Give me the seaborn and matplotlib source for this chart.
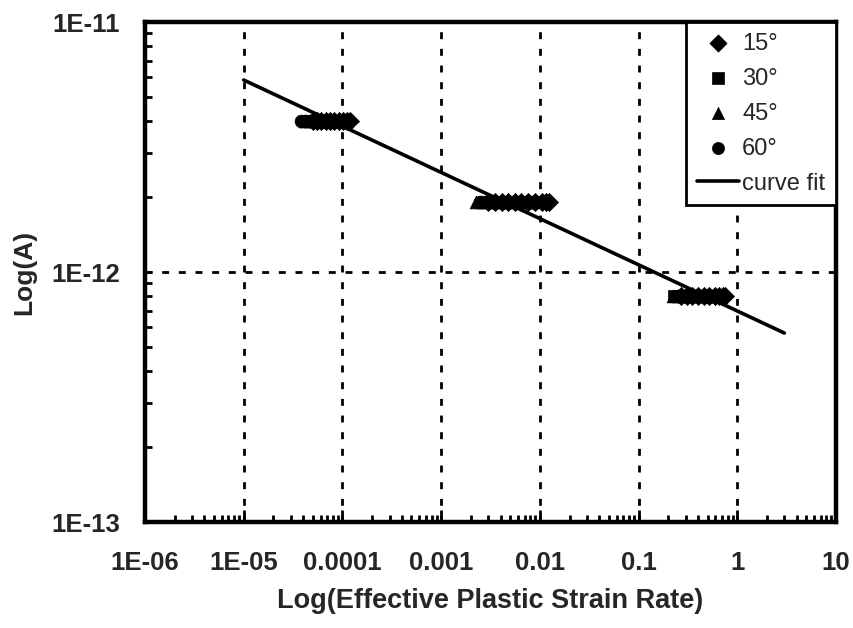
import matplotlib
matplotlib.use("Agg")
import matplotlib.pyplot as plt
import matplotlib.ticker as mticker
import seaborn as sns
import pandas as pd
import numpy as np

# ---- data ----
angles = ["15°", "30°", "45°", "60°"]
markers = {"15°": "D", "30°": "s", "45°": "^", "60°": "o"}
cluster_A = [4.0e-12, 1.9e-12, 8.0e-13]

x15 = [[5.0e-5, 5.5e-5, 6.1e-5, 6.8e-5, 7.5e-5, 8.3e-5, 9.2e-5, 1.02e-4, 1.12e-4, 1.2e-4],
       [3.0e-3, 3.5e-3, 4.1e-3, 4.8e-3, 5.6e-3, 6.5e-3, 7.6e-3, 8.9e-3, 1.04e-2, 1.15e-2, 1.24e-2],
       [0.27, 0.31, 0.35, 0.4, 0.46, 0.52, 0.59, 0.66, 0.71, 0.75]]
x30 = [[4.6e-5, 5.1e-5, 5.7e-5, 6.3e-5, 7.0e-5, 7.8e-5, 8.7e-5, 9.7e-5, 1.1e-4],
       [2.7e-3, 3.1e-3, 3.6e-3, 4.2e-3, 4.9e-3, 5.7e-3, 6.6e-3, 7.7e-3, 9.5e-3],
       [0.23, 0.26, 0.3, 0.34, 0.39, 0.45, 0.52, 0.58, 0.65]]
x45 = [[4.2e-5, 4.7e-5, 5.2e-5, 5.8e-5, 6.5e-5, 7.3e-5, 8.2e-5, 9.1e-5, 1.0e-4],
       [2.26e-3, 2.6e-3, 3.0e-3, 3.5e-3, 4.1e-3, 4.8e-3, 5.6e-3, 6.6e-3, 7.6e-3, 8.5e-3],
       [0.224, 0.25, 0.29, 0.33, 0.38, 0.44, 0.5, 0.55, 0.6]]
x60 = [[3.8e-5, 4.2e-5, 4.7e-5, 5.2e-5, 5.8e-5, 6.5e-5, 7.3e-5, 8.2e-5, 9.5e-5],
       [2.5e-3, 2.9e-3, 3.4e-3, 4.0e-3, 4.7e-3, 5.5e-3, 6.4e-3, 7.2e-3, 8.0e-3],
       [0.25, 0.28, 0.32, 0.37, 0.42, 0.48, 0.54, 0.6]]
series_x = {"15°": x15, "30°": x30, "45°": x45, "60°": x60}

fit_x = [1.0e-5, 3.0]
fit_A = [5.86e-12, 5.7e-13]

xtick_vals = [1e-6, 1e-5, 1e-4, 1e-3, 1e-2, 1e-1, 1, 10]
xtick_labels = ["1E-06", "1E-05", "0.0001", "0.001", "0.01", "0.1", "1", "10"]
ytick_vals = [1e-13, 1e-12, 1e-11]
ytick_labels = ["1E-13", "1E-12", "1E-11"]

# ---- build table ----
rows = []
for ang in angles:
    for ci, xs in enumerate(series_x[ang]):
        for xv in xs:
            rows.append({"angle": ang, "rate": xv, "A": cluster_A[ci]})
df = pd.DataFrame(rows)
fit_df = pd.DataFrame({"rate": fit_x, "A": fit_A})

sns.set_theme(style="white")
plt.rcParams["font.family"] = ["Liberation Sans", "DejaVu Sans"]

fig = plt.figure(figsize=(8.54, 6.28), dpi=100)
ax = fig.add_axes([145 / 854, 1 - 522 / 628, (836 - 145) / 854, (522 - 22) / 628])
ax.set_xscale("log")
ax.set_yscale("log")

# draw in reverse so 15° diamonds end on top
for ang in angles[::-1]:
    sns.scatterplot(data=df[df["angle"] == ang], x="rate", y="A", marker=markers[ang],
                    color="black", edgecolor="black", s=85, linewidth=0.5,
                    ax=ax, label=ang, legend=False, zorder=3)
sns.lineplot(data=fit_df, x="rate", y="A", color="black", linewidth=2.6, ax=ax,
             label="curve fit", legend=False, zorder=4)

ax.set_xlim(1e-6, 10)
ax.set_ylim(1e-13, 1e-11)

ax.xaxis.set_major_locator(mticker.FixedLocator(xtick_vals))
ax.xaxis.set_major_formatter(mticker.FixedFormatter(xtick_labels))
ax.yaxis.set_major_locator(mticker.FixedLocator(ytick_vals))
ax.yaxis.set_major_formatter(mticker.FixedFormatter(ytick_labels))
ax.xaxis.set_minor_locator(mticker.LogLocator(base=10, subs=np.arange(2, 10), numticks=20))
ax.yaxis.set_minor_locator(mticker.LogLocator(base=10, subs=np.arange(2, 10), numticks=20))
ax.xaxis.set_minor_formatter(mticker.NullFormatter())
ax.yaxis.set_minor_formatter(mticker.NullFormatter())

ax.tick_params(which="both", direction="in", color="black", width=2,
               bottom=True, left=True, top=False, right=False)
ax.tick_params(which="major", labelsize=18.5)
ax.tick_params(axis="x", which="major", length=9, pad=21)
ax.tick_params(axis="x", which="minor", length=5)
ax.tick_params(axis="y", which="both", length=5)
ax.tick_params(axis="y", which="major", pad=18)
for lab in ax.get_xticklabels() + ax.get_yticklabels():
    lab.set_fontweight("bold")

for sp in ax.spines.values():
    sp.set_color("black")
    sp.set_linewidth(3.2)

ax.grid(False)
for xv in xtick_vals[1:-1]:
    ax.axvline(xv, color="black", linewidth=2, linestyle=(0, (2.5, 3.5)), zorder=1)
ax.axhline(1e-12, color="black", linewidth=2, linestyle=(0, (2.5, 3.5)), zorder=1)

ax.set_xlabel("Log(Effective Plastic Strain Rate)", fontsize=19.5, fontweight="bold", labelpad=9)
ax.set_ylabel("Log(A)", fontsize=19, fontweight="bold", labelpad=11)

handles, labels = ax.get_legend_handles_labels()
order = [labels.index(l) for l in angles + ["curve fit"]]
leg = ax.legend([handles[i] for i in order], [labels[i] for i in order],
                loc="upper right", bbox_to_anchor=(1.0, 1.0), fontsize=17,
                frameon=True, fancybox=False, framealpha=1, edgecolor="black",
                borderaxespad=0, handlelength=1.8, handletextpad=0.12,
                borderpad=0.45, labelspacing=0.55, markerscale=0.95)
leg.get_frame().set_linewidth(2)
leg.set_zorder(5)

fig.savefig("out.png", dpi=100)
